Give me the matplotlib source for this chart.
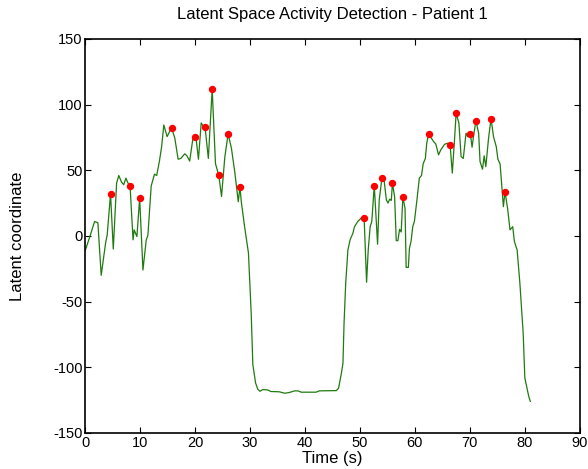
import matplotlib

matplotlib.use("Agg")
import matplotlib.pyplot as plt

plt.rcParams.update({
    "font.family": ["Liberation Sans", "DejaVu Sans"],
    "axes.unicode_minus": False,
    "xtick.direction": "in",
    "ytick.direction": "in",
    "xtick.top": True,
    "ytick.right": True,
})

# latent trajectory, seconds vs first latent coordinate
time_s = [
    0.0, 0.8, 1.7, 2.3, 2.9, 3.7, 4.0, 4.6, 5.1, 5.7, 6.1, 6.6, 7.0, 7.4, 7.8,
    8.15, 8.7, 8.9, 9.4, 9.9, 10.5, 11.1, 11.4, 12.0, 12.6, 13.0, 13.5, 13.9,
    14.3, 14.9, 15.7, 16.3, 16.9, 17.4, 18.1, 18.5, 19.0, 19.6, 20.0, 20.2,
    20.6, 21.1, 21.4, 21.8, 22.4, 23.1, 23.7, 24.3, 24.4, 24.8, 25.4, 26.0,
    26.6, 27.2, 27.85, 28.15, 28.4, 29.0, 29.7, 30.2, 30.5, 31.0, 31.4, 31.8,
    32.3, 33.2, 33.8, 35.3, 36.3, 37.1, 38.1, 38.7, 39.3, 42.0, 42.6, 45.7,
    46.1, 46.6, 46.9, 47.1, 47.4, 47.8, 48.2, 48.7, 49.0, 49.6, 50.2, 50.75,
    51.2, 51.5, 51.85, 52.15, 52.6, 53.2, 53.5, 54.0, 54.4, 54.8, 55.1, 55.4,
    55.7, 55.9, 56.3, 56.6, 56.9, 57.2, 57.5, 57.8, 58.2, 58.4, 58.8, 59.0,
    59.3, 59.6, 59.9, 60.3, 60.8, 61.2, 61.5, 61.9, 62.15, 62.5, 62.9, 63.4,
    63.8, 64.3, 64.7, 65.4, 66.0, 66.4, 66.8, 67.2, 67.5, 68.0, 68.4, 68.8,
    69.3, 69.6, 70.1, 70.4, 70.7, 71.1, 71.6, 71.85, 72.3, 72.6, 72.9, 73.4,
    73.85, 74.3, 74.8, 75.1, 75.5, 75.8, 76.1, 76.4, 76.9, 77.3, 77.8, 78.1,
    78.6, 79.1, 79.7, 80.0, 80.7, 81.0,
]
latent = [
    -11, -1, 11, 10, -30, -5.5, 1, 32, -10, 40, 46, 41, 39, 44, 40,
    38.3, -3, 4.6, -0.5, 28.7, -26, -3, 0.5, 38, 47, 46, 57, 68,
    84.5, 75.6, 82.5, 74.4, 58.4, 59, 62.5, 61, 57, 74.4, 75.6, 73,
    58.4, 86, 84, 83, 59, 111.7, 55, 46, 43, 30, 60, 77.7,
    66.8, 49, 26, 37.5, 26, 7, -13, -59, -98, -112, -116.8, -118.3,
    -117, -117.3, -118.5, -118.7, -119.8, -119.3, -118, -118, -119, -119, -118, -117.8,
    -116, -105, -97, -66.5, -36, -10.7, -3, 2, 7, 11, 13.5, 14,
    -35.3, -10.7, 7, 11, 38.3, -6.3, 27.4, 44.2, 42, 27.4, 25, 28,
    27, 40, 30, -3.6, -3.6, 5, 3, 29.5, 21, -24, -24, -9.4,
    -4, 7, 11, 25, 44, 46, 55, 59, 70.6, 77.7, 75, 71.8,
    70, 61.7, 65.5, 69.8, 70.6, 69.3, 47.8, 73, 93.4, 86, 60.4, 59,
    78.2, 75.6, 77.4, 67.5, 77, 87.8, 78, 56.6, 50.8, 61, 52.7, 74.4,
    89.3, 75.6, 68, 58.4, 54.8, 38.8, 22.3, 33.8, 19.8, 4.6, 7, -4.3,
    -10.7, -36, -74, -108, -122, -126,
]

# detected activity peaks
peak_time = [4.6, 8.15, 9.9, 15.7, 20.0, 21.8, 23.1, 24.3, 26.0, 28.15,
             50.75, 52.6, 54.0, 55.9, 57.8, 62.5, 66.4, 67.5, 70.1, 71.1,
             73.85, 76.4]
peak_value = [32, 38.3, 28.7, 82.5, 75.6, 83, 111.7, 46, 77.7, 37.5,
              14, 38.3, 44.2, 40, 29.5, 77.7, 69.3, 93.4, 77.4, 87.8,
              89.3, 33.8]

fig = plt.figure(figsize=(5.88, 4.69), dpi=100)
ax = fig.add_axes([0.145, 0.077, 0.841, 0.84])
ax.plot(time_s, latent, color="#1f7a0f", lw=0.9)
ax.plot(peak_time, peak_value, "o", color="red", mec="red", ms=4.3)

ax.set_xlim(0, 90)
ax.set_ylim(-150, 150)
ax.set_xticks(range(0, 91, 10))
ax.set_yticks(range(-150, 151, 50))
ax.tick_params(labelsize=10.5, length=4, width=0.8, pad=2)
for spine in ax.spines.values():
    spine.set_linewidth(1.2)

ax.set_title("Latent Space Activity Detection - Patient 1", fontsize=12, pad=14)
ax.set_xlabel("Time (s)", fontsize=12, labelpad=1)
ax.set_ylabel("Latent coordinate", fontsize=12, labelpad=20)

fig.savefig("out.png", dpi=100)
